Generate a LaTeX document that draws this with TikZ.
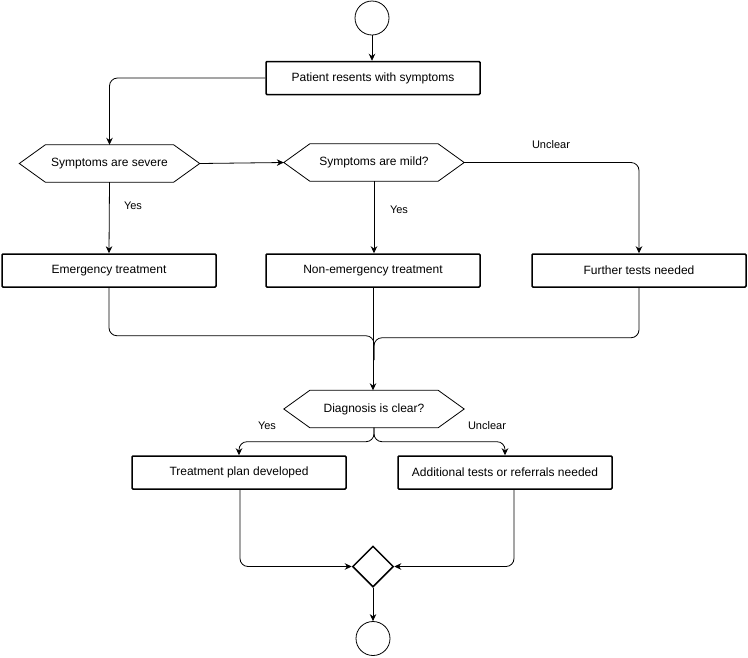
\documentclass[tikz,border=0pt]{standalone}
\usepackage{fontspec}
\setmainfont{Liberation Sans}
\usetikzlibrary{arrows.meta,shapes.geometric}
\begin{document}
\begin{tikzpicture}[x=1pt,y=-1pt,
  box/.style={draw, line width=1.5pt, rectangle, rounded corners=1pt, minimum width=214pt, minimum height=33pt, inner sep=0pt, font=\fontsize{12}{14}\selectfont},
  hexnode/.style={minimum width=180pt, minimum height=37pt, inner sep=0pt, font=\fontsize{12}{14}\selectfont},
  hexline/.style={line width=0.8pt, line join=miter},
  lab/.style={font=\fontsize{11}{13}\selectfont},
  arr/.style={-{Stealth[length=7pt,width=6.5pt]}, line width=0.8pt, rounded corners=8pt},
  ln/.style={line width=0.8pt, rounded corners=8pt},
  term/.style={circle, draw, line width=0.8pt, minimum size=34pt, inner sep=0pt}]
\useasboundingbox (0,0) rectangle (748,657);

\node[term] (start) at (372,18) {};
\node[box] (p) at (373,78) {Patient resents with symptoms};
\node[hexnode] (sev) at (109.5,163.5) {Symptoms are severe};
\node[hexnode] (mild) at (374,162.5) {Symptoms are mild?};
\node[box] (em) at (109,270.5) {Emergency treatment};
\node[box] (ne) at (373,270.5) {Non-emergency treatment};
\node[box] (ft) at (639,270.5) {Further tests needed};
\node[hexnode] (dg) at (374,409) {Diagnosis is clear?};
\node[box] (tp) at (239,472.5) {Treatment plan developed};
\node[box] (at) at (505,472.5) {Additional tests or referrals needed};
\node[diamond, draw, line width=1.5pt, minimum size=41pt, inner sep=0pt] (j) at (373,566.5) {};
\node[term] (end) at (373,638.5) {};

\foreach \n in {sev,mild,dg}
  \draw[hexline] (\n.west) -- ([xshift=26pt]\n.north west) -- ([xshift=-26pt]\n.north east) -- (\n.east) -- ([xshift=-26pt]\n.south east) -- ([xshift=26pt]\n.south west) -- cycle;

\coordinate (m) at (374,360);

\draw[arr] (start.south) -- (start.south |- p.north);
\draw[arr] (p.west) -| (sev.north);
\draw[arr] (sev.east) -- (mild.west);
\draw[arr] (mild.east) -| (ft.north);
\draw[arr] (sev.south) -- (em.north);
\draw[arr] (mild.south) -- (mild.south |- ne.north);
\draw[ln] (em.south) -- ++(0,48) -| (m);
\draw[ln] (ft.south) -- ++(0,50) -| (m);
\draw[arr] (ne.south) -- (ne.south |- dg.north);
\draw[arr] (dg.south) -- ++(0,14) -| (tp.north);
\draw[arr] (dg.south) -- ++(0,14) -| (at.north);
\draw[arr] ([xshift=1pt]tp.south) |- (j.west);
\draw[arr] ([xshift=9pt]at.south) |- (j.east);
\draw[arr] (j.south) -- (end.north);

\node[lab] (l1) at (551,145) {Unclear};
\node[lab] (l2) at (133,206) {Yes};
\node[lab] (l3) at (399,210) {Yes};
\node[lab] (l4) at (267,426) {Yes};
\node[lab] (l5) at (487,426) {Unclear};
\end{tikzpicture}
\end{document}
